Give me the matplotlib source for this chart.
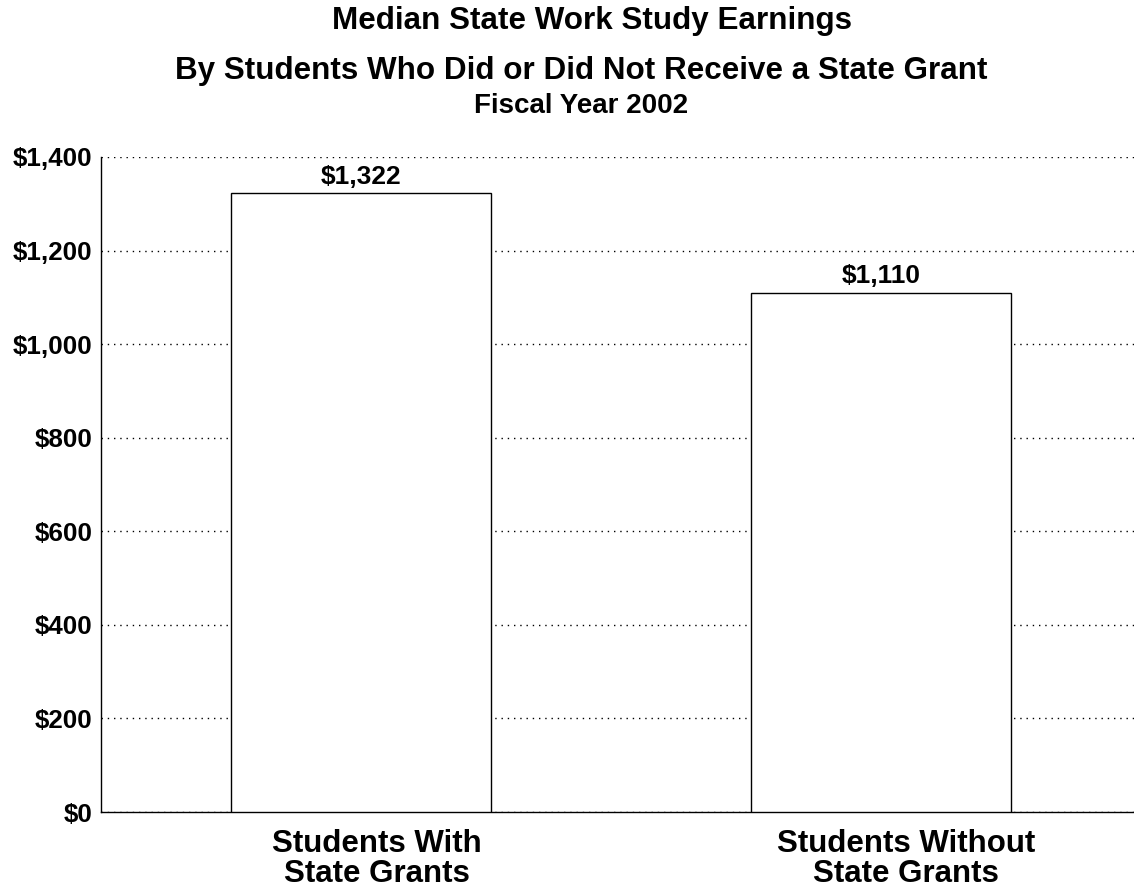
import matplotlib.pyplot as plt
from matplotlib.transforms import ScaledTranslation

# Данные
categories = ['Students With\nState Grants', 'Students Without\nState Grants']
earnings = [1322, 1110]
value_labels = ['$1,322', '$1,110']
yticks = [0, 200, 400, 600, 800, 1000, 1200, 1400]
ytick_labels = ['$0', '$200', '$400', '$600', '$800', '$1,000', '$1,200', '$1,400']

plt.rcParams['font.family'] = ['Liberation Sans', 'DejaVu Sans']
plt.rcParams['font.weight'] = 'bold'

fig = plt.figure(figsize=(11.34, 8.92), dpi=100)
ax = fig.add_axes([101 / 1134, 80 / 892, 1 - 101 / 1134, 655 / 892])

x = range(len(categories))
ax.bar(x, earnings, width=0.5, color='white', edgecolor='black', linewidth=1, zorder=3)

for xi, v, lab in zip(x, earnings, value_labels):
    ax.text(xi, v + 10, lab, ha='center', va='bottom', fontsize=19, fontweight='bold')

ax.set_xlim(-0.5, 1.4865)
ax.set_ylim(0, 1400)
ax.set_yticks(yticks)
ax.set_yticklabels(ytick_labels, fontsize=18.7, fontweight='bold')
ax.set_xticks(list(x))
ax.set_xticklabels(categories, fontsize=22.5, fontweight='bold', linespacing=1.0)
ax.tick_params(axis='y', length=0, pad=6)
ax.tick_params(axis='x', length=0, pad=12)

# подписи по оси X в оригинале чуть сдвинуты вправо
for lbl, dx in zip(ax.get_xticklabels(), [16, 25]):
    lbl.set_transform(lbl.get_transform() + ScaledTranslation(dx / 100, 0, fig.dpi_scale_trans))

ax.yaxis.grid(True, linestyle=(0, (1, 3.5)), color='black', linewidth=1, zorder=0)
for s in ['top', 'right']:
    ax.spines[s].set_visible(False)
ax.spines['left'].set_linewidth(1)
ax.spines['bottom'].set_linewidth(1)

fig.text(592.5 / 1134, 1 - 21 / 892, 'Median State Work Study Earnings', ha='center', va='center', fontsize=22.6, fontweight='bold')
fig.text(581.5 / 1134, 1 - 71 / 892, 'By Students Who Did or Did Not Receive a State Grant', ha='center', va='center', fontsize=22.6, fontweight='bold')
fig.text(581 / 1134, 1 - 106 / 892, 'Fiscal Year 2002', ha='center', va='center', fontsize=20, fontweight='bold')

plt.savefig('out.png', dpi=100)
